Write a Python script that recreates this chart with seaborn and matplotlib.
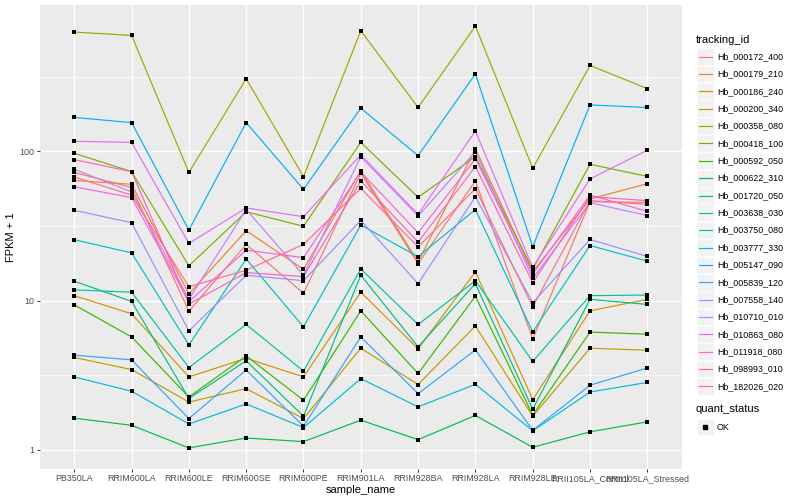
import numpy as np
import pandas as pd
import matplotlib
matplotlib.use("Agg")
import matplotlib.pyplot as plt
import seaborn as sns
from matplotlib.patches import Rectangle
from matplotlib.lines import Line2D
from matplotlib.ticker import FixedLocator, NullFormatter

samples = ["PB350LA", "RRIM600LA", "RRIM600LE", "RRIM600SE", "RRIM600PE",
           "RRIM901LA", "RRIM928BA", "RRIM928LA", "RRIM928LE",
           "RRII105LA_Control", "RRII105LA_Stressed"]

tracking_ids = ["Hb_000172_400", "Hb_000179_210", "Hb_000186_240", "Hb_000200_340",
                "Hb_000358_080", "Hb_000418_100", "Hb_000592_050", "Hb_000622_310",
                "Hb_001720_050", "Hb_003638_030", "Hb_003750_080", "Hb_003777_330",
                "Hb_005147_090", "Hb_005839_120", "Hb_007558_140", "Hb_010710_010",
                "Hb_010863_080", "Hb_011918_080", "Hb_098993_010", "Hb_182026_020"]

colors = ["#F8766D", "#EA8331", "#D89000", "#C09B00", "#A3A500", "#7CAE00", "#39B600",
          "#00BB4E", "#00BF7D", "#00C1A3", "#00BFC4", "#00BAE0", "#00B0F6", "#35A2FF",
          "#9590FF", "#C77CFF", "#E76BF3", "#FA62DB", "#FF62BC", "#FF6C91"]

# FPKM + 1 per sample (order of `samples`)
hb_000172_400 = [72.3, 57.3, 8.5, 23.8, 11.2, 71.4, 17.7, 63.4, 5.54, 46.0, 45.6]
hb_000179_210 = [63.9, 60.2, 11.1, 29.4, 16.2, 74.3, 18.2, 104, 15.6, 48.0, 60.8]
hb_000186_240 = [10.8, 8.16, 3.08, 4.11, 3.08, 11.4, 4.75, 15.6, 2.17, 8.54, 10.2]
hb_000200_340 = [4.16, 3.45, 2.09, 2.57, 1.62, 4.80, 2.74, 6.77, 1.68, 4.80, 4.65]
hb_000358_080 = [631, 599, 72.3, 307, 67.7, 644, 197, 692, 77.1, 377, 264]
hb_000418_100 = [97.3, 73.2, 17.1, 39.4, 31.5, 115, 49.3, 92.3, 16.2, 82.0, 68.0]
hb_000592_050 = [9.37, 5.71, 2.26, 4.26, 2.15, 8.54, 3.25, 10.7, 1.71, 6.15, 5.96]
hb_000622_310 = [1.63, 1.46, 1.03, 1.20, 1.135, 1.58, 1.17, 1.70, 1.04, 1.32, 1.54]
hb_001720_050 = [13.5, 9.88, 2.21, 3.95, 1.68, 14.8, 4.90, 13.0, 1.87, 10.2, 9.43]
hb_003638_030 = [11.8, 11.4, 3.56, 6.92, 3.37, 16.3, 6.92, 13.6, 3.91, 10.8, 10.9]
hb_003750_080 = [25.6, 20.9, 5.05, 19.0, 6.67, 32.1, 19.7, 40.8, 6.18, 23.4, 18.4]
hb_003777_330 = [3.08, 2.47, 1.49, 2.03, 1.41, 3.00, 1.94, 2.75, 1.34, 2.44, 2.83]
hb_005147_090 = [169, 156, 29.7, 156, 55.7, 195, 93.7, 331, 23.0, 205, 197]
hb_005839_120 = [4.31, 4.01, 1.62, 3.43, 1.44, 5.71, 2.38, 4.67, 1.35, 2.71, 3.54]
hb_007558_140 = [40.3, 33.3, 6.27, 14.8, 13.6, 34.5, 13.0, 49.7, 9.67, 25.7, 19.8]
hb_010710_010 = [76.0, 53.5, 10.2, 40.8, 14.8, 92.3, 36.9, 99.7, 14.1, 45.3, 37.2]
hb_010863_080 = [117, 115, 24.2, 41.8, 36.5, 94.8, 37.9, 137, 16.7, 65.4, 102]
hb_011918_080 = [58.0, 49.0, 9.85, 21.8, 19.4, 72.8, 28.5, 89.1, 15.1, 51.0, 39.7]
hb_098993_010 = [88.1, 73.2, 9.48, 15.4, 14.5, 63.4, 24.7, 79.1, 13.2, 49.7, 46.8]
hb_182026_020 = [67.4, 51.0, 12.4, 16.0, 23.8, 56.6, 22.9, 56.3, 9.09, 46.8, 44.2]

series_values = [hb_000172_400, hb_000179_210, hb_000186_240, hb_000200_340,
                 hb_000358_080, hb_000418_100, hb_000592_050, hb_000622_310,
                 hb_001720_050, hb_003638_030, hb_003750_080, hb_003777_330,
                 hb_005147_090, hb_005839_120, hb_007558_140, hb_010710_010,
                 hb_010863_080, hb_011918_080, hb_098993_010, hb_182026_020]

quant_status = "OK"

rows = []
for tid, vals in zip(tracking_ids, series_values):
    for s, v in zip(samples, vals):
        rows.append((tid, s, v, quant_status))
df = pd.DataFrame(rows, columns=["tracking_id", "sample_name", "fpkm1", "quant_status"])
df["sample_name"] = pd.Categorical(df["sample_name"], categories=samples, ordered=True)
df["xpos"] = df["sample_name"].cat.codes

plt.rcParams["font.family"] = ["Liberation Sans", "DejaVu Sans"]

fig = plt.figure(figsize=(8, 5), dpi=100)
ax = fig.add_axes([39.9 / 800, 1 - 469 / 500, (681.7 - 39.9) / 800, (469 - 5) / 500])
ax.set_facecolor("#EBEBEB")

ax.set_yscale("log")
sns.lineplot(data=df, x="xpos", y="fpkm1", hue="tracking_id", hue_order=tracking_ids,
             palette=colors, estimator=None, sort=False, units="tracking_id",
             linewidth=0.85, legend=False, ax=ax, zorder=3)
sns.scatterplot(data=df, x="xpos", y="fpkm1", color="black", marker="s", s=10.5,
                linewidth=0, legend=False, ax=ax, zorder=4)

lo, hi = np.log10(df["fpkm1"].min()), np.log10(df["fpkm1"].max())
pad = 0.05 * (hi - lo)
ax.set_ylim(10 ** (lo - pad), 10 ** (hi + pad))
ax.set_xlim(-0.6, len(samples) - 1 + 0.6)

ax.yaxis.set_major_locator(FixedLocator([1, 10, 100]))
ax.yaxis.set_minor_locator(FixedLocator([10 ** 0.5, 10 ** 1.5, 10 ** 2.5]))
ax.yaxis.set_minor_formatter(NullFormatter())
ax.set_yticklabels(["1", "10", "100"])
ax.set_xticks(range(len(samples)))
ax.set_xticklabels(samples)

ax.grid(which="major", color="white", linewidth=1.0, zorder=0)
ax.grid(which="minor", axis="y", color="white", linewidth=0.5, zorder=0)
ax.set_axisbelow(True)
for sp in ax.spines.values():
    sp.set_visible(False)
ax.tick_params(which="major", length=2.2, width=0.7, color="#333333",
               labelsize=6.4, labelcolor="#4D4D4D", pad=1.5)
ax.tick_params(which="minor", length=0)

ax.set_xlabel("sample_name", fontsize=8, labelpad=1.5)
ax.set_ylabel("FPKM + 1", fontsize=8, labelpad=2.5)

# legends (ggplot style keys)
lg = fig.add_axes([0, 0, 1, 1])
lg.set_xlim(0, 800)
lg.set_ylim(500, 0)
lg.axis("off")
lg.text(696, 40, "tracking_id", fontsize=8, va="center", ha="left")
y0, dy = 56.7, 17.35
for i, (tid, c) in enumerate(zip(tracking_ids, colors)):
    yc = y0 + i * dy
    lg.add_patch(Rectangle((697, yc - 8.4), 16.8, 16.8, facecolor="#F2F2F2", edgecolor="white", lw=0.4))
    lg.add_line(Line2D([698.5, 711.5], [yc, yc], color=c, lw=0.85))
    lg.text(717, yc, tid, fontsize=6.4, va="center", ha="left")
lg.text(696, 409, "quant_status", fontsize=8, va="center", ha="left")
lg.add_patch(Rectangle((697, 427 - 8.4), 16.8, 16.8, facecolor="#F2F2F2", edgecolor="white", lw=0.4))
lg.plot([705.4], [427], marker="s", color="black", markersize=2.7, linestyle="none")
lg.text(717, 427, quant_status, fontsize=6.4, va="center", ha="left")

fig.savefig("out.png", dpi=100)
